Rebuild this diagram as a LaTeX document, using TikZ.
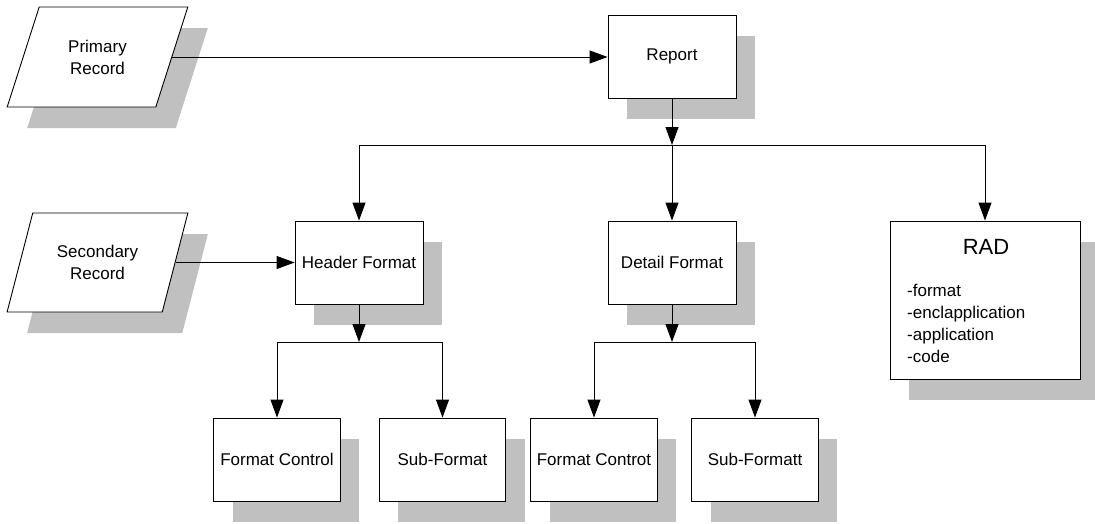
\documentclass[tikz,border=0pt]{standalone}
\usepackage{fontspec}
\setmainfont{Liberation Sans}
\usetikzlibrary{arrows.meta,shapes.geometric,shadows}
\definecolor{shadowgray}{RGB}{192,192,192}
\newcommand\labfont{\fontsize{17}{22}\selectfont}
\newcommand\titlefont{\fontsize{22}{26}\selectfont}
\tikzset{
  shade box/.style={drop shadow={shadow xshift=19pt, shadow yshift=-21pt,
      fill=shadowgray, opacity=1}},
  procbox/.style={draw, fill=white, line width=0.9pt, inner sep=0pt,
      minimum width=128pt, minimum height=83pt, font=\labfont,
      align=center, shade box},
  smallbox/.style={procbox, minimum width=126.5pt},
  datain/.style={draw, fill=white, line width=0.9pt, inner sep=0pt,
      trapezium, trapezium left angle=65, trapezium right angle=115,
      trapezium stretches=true, minimum width=181pt, minimum height=100pt,
      font=\labfont, align=center,
      drop shadow={shadow xshift=20pt, shadow yshift=-21pt,
      fill=shadowgray, opacity=1}},
  arr/.style={line width=0.9pt, -{Triangle[length=18pt,width=13pt]}},
  plain/.style={line width=0.9pt}
}
\begin{document}
\begin{tikzpicture}[x=1pt,y=-1pt]
\useasboundingbox (0,0) rectangle (1095,523);

% input records
\node[datain] (prim) at (97.5,57) {Primary\\Record};
\node[datain, minimum height=99pt] (sec) at (97.5,262.5) {Secondary\\Record};

% report and its formats
\node[procbox] (report) at (672,56.5) {Report};
\node[procbox] (hdr) at (359,262.5) {Header Format};
\node[procbox] (det) at (672,262.5) {Detail Format};
\node[procbox, minimum width=190pt, minimum height=158pt] (rad) at (985,300) {};
\node[font=\titlefont, inner sep=0pt] (radtitle) at (986,247) {RAD};
\node[font=\labfont, align=left, anchor=west, inner sep=0pt] (radlist) at (907,323.5)
  {-format\\-enclapplication\\-application\\-code};

% sub-formats
\node[smallbox] (fc1) at (277,459.5) {Format Control};
\node[smallbox] (sf1) at (442.5,459.5) {Sub-Format};
\node[smallbox] (fc2) at (594,459.5) {Format Controt};
\node[smallbox] (sf2) at (755,459.5) {Sub-Formatt};

% bus levels
\coordinate (busA) at (0,145);
\coordinate (busB) at (0,342);

% connectors
\draw[arr] (prim.east) -- (prim.east -| report.west);
\draw[arr] (sec.east) -- (sec.east -| hdr.west);

\draw[arr] (report.south) -- (report.south |- busA);
\draw[arr] (report.south |- busA) -| (hdr.north);
\draw[arr] (report.south |- busA) -| (rad.north);
\draw[arr] (report.south |- busA) -- (det.north);

\draw[arr] (hdr.south) -- (hdr.south |- busB);
\draw[arr] (hdr.south |- busB) -| (fc1.north);
\draw[arr] (hdr.south |- busB) -| (sf1.north);

\draw[arr] (det.south) -- (det.south |- busB);
\draw[arr] (det.south |- busB) -| (fc2.north);
\draw[arr] (det.south |- busB) -| (sf2.north);
\end{tikzpicture}
\end{document}
